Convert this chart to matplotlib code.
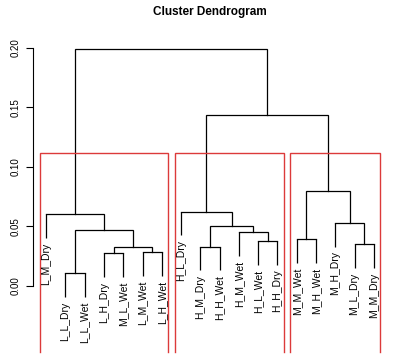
import matplotlib
matplotlib.use('Agg')
import matplotlib.pyplot as plt

plt.rcParams['font.family'] = ['Liberation Sans', 'DejaVu Sans']

# leaf labels in dendrogram order
leaf_labels = ['L_M_Dry', 'L_L_Dry', 'L_L_Wet', 'L_H_Dry', 'M_L_Wet', 'L_M_Wet',
               'L_H_Wet', 'H_L_Dry', 'H_M_Dry', 'H_H_Wet', 'H_M_Wet', 'H_L_Wet',
               'H_H_Dry', 'M_M_Wet', 'M_H_Wet', 'M_H_Dry', 'M_L_Dry', 'M_M_Dry']

# R-style merges: negative = leaf (1-based index in leaf_labels), positive = earlier merge
merge_left = [-2, -4, -6, 2, 1, -1, -9, -12, -11, 7, -8, -14, -17, -16, 12, 11, 6]
merge_right = [-3, -5, -7, 3, 4, 5, -10, -13, 8, 9, 10, -15, -18, 13, 14, 15, 16]
merge_height = [0.011, 0.0275, 0.0283, 0.033, 0.047, 0.0605, 0.033, 0.0378,
                0.045, 0.050, 0.0625, 0.0395, 0.0353, 0.053, 0.080, 0.1437, 0.199]

# k = 3 clusters: leaf index ranges (1-based)
cluster_ranges = [(1, 7), (8, 13), (14, 18)]

n = len(leaf_labels)
hang = 0.1 * max(merge_height)

fig = plt.figure(figsize=(4.0, 3.62), dpi=100)
ax = fig.add_axes([33 / 400, 10 / 362, 354 / 400, 312 / 362])

node_x = {}
node_y = {}


def child_pos(c, parent_h):
  if c < 0:
    x = -c
    # leaf drops below the merge by the hang amount
    ax.plot([x, x], [parent_h, parent_h - hang], color='black', lw=0.9,
            solid_capstyle='butt')
    ax.text(x, parent_h - hang - 0.004, leaf_labels[x - 1], rotation=90,
            ha='center', va='top', fontsize=7.5, clip_on=False)
    return x, parent_h
  return node_x[c], node_y[c]


for i, (a, b, h) in enumerate(zip(merge_left, merge_right, merge_height), start=1):
  xa, ya = child_pos(a, h)
  xb, yb = child_pos(b, h)
  ax.plot([xa, xa, xb, xb], [ya, h, h, yb], color='black', lw=0.9,
          solid_joinstyle='miter')
  node_x[i] = (xa + xb) / 2
  node_y[i] = h

sorted_h = sorted(merge_height, reverse=True)
rect_top = (sorted_h[1] + sorted_h[2]) / 2
ymin = -0.0555
for lo, hi in cluster_ranges:
  x0, x1 = lo - 0.34, hi + 0.33
  # bottom edge falls outside the plot region in R, so only three sides show
  ax.plot([x0, x0, x1, x1], [ymin, rect_top, rect_top, ymin], color='#dc3a3a',
          lw=1.0, solid_joinstyle='miter', clip_on=False)

ax.set_xlim(1 - 0.04 * (n - 1), n + 0.04 * (n - 1))
ax.set_ylim(ymin, 0.2067)
ax.set_xticks([])
ax.set_yticks([0.0, 0.05, 0.10, 0.15, 0.20])
ax.set_yticklabels(['0.00', '0.05', '0.10', '0.15', '0.20'], rotation=90,
                   va='center', fontsize=7)
ax.tick_params(axis='y', length=5, width=0.8, pad=4)
for side in ['top', 'right', 'bottom']:
  ax.spines[side].set_visible(False)
ax.spines['left'].set_bounds(0, 0.2)
ax.spines['left'].set_linewidth(0.8)
ax.set_facecolor('none')

fig.text(210 / 400, 1 - 12 / 362, 'Cluster Dendrogram', ha='center', va='center',
         fontsize=8.5, fontweight='bold')

fig.savefig('out.png', dpi=100)
